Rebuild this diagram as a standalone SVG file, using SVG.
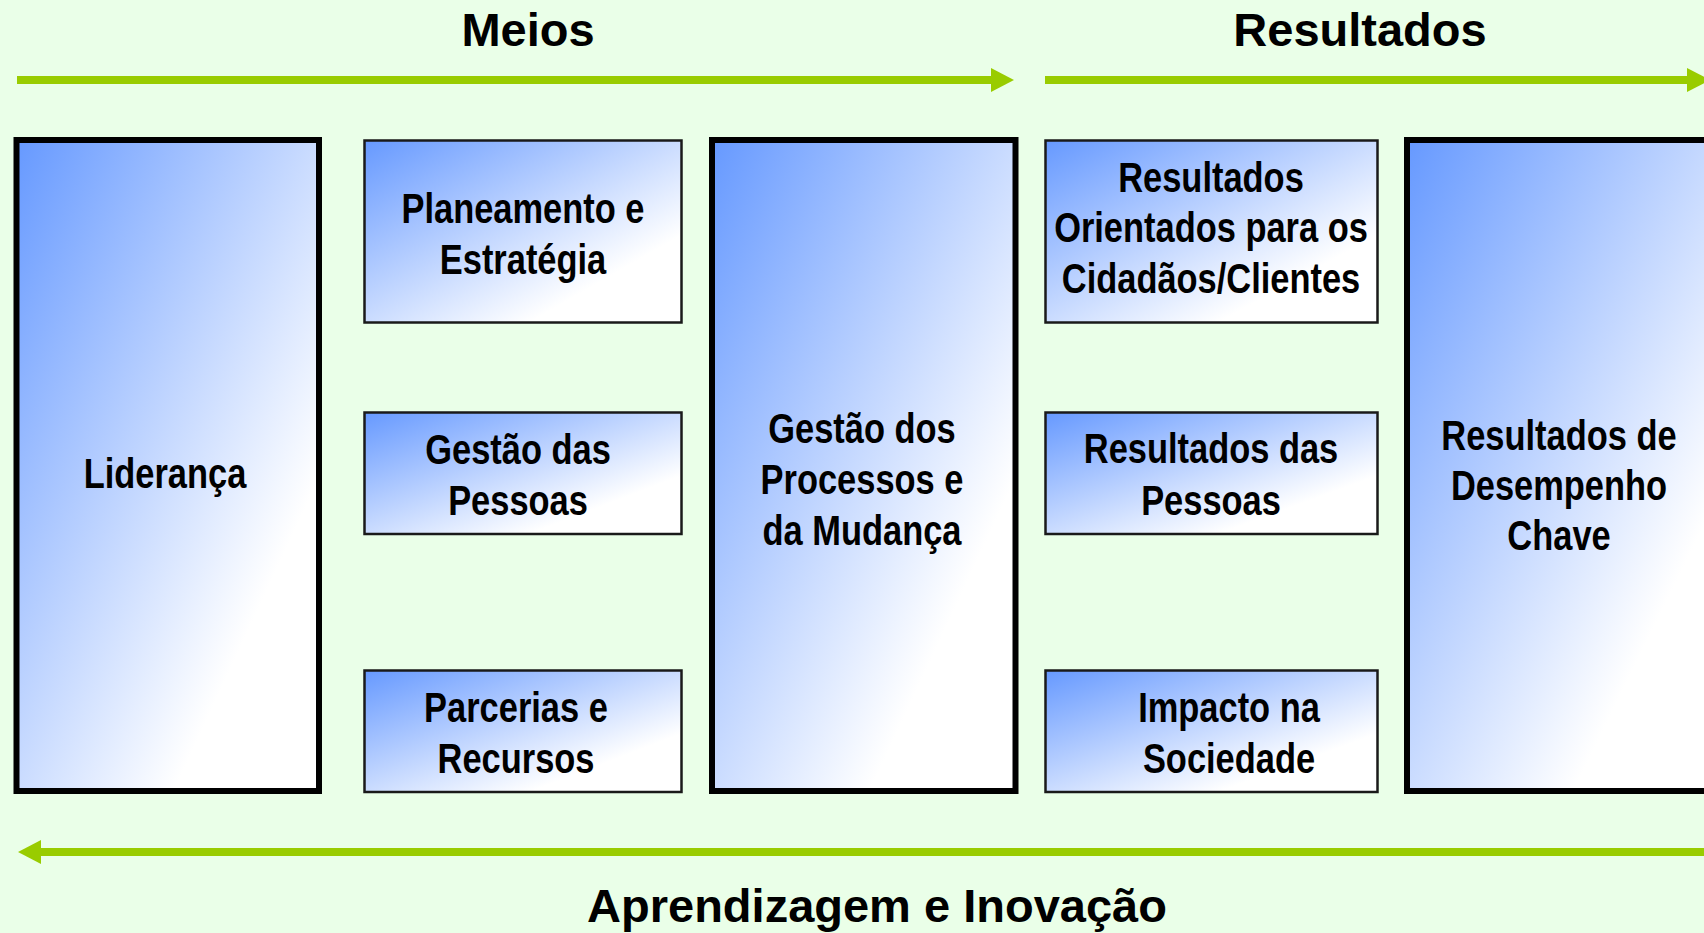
<svg xmlns="http://www.w3.org/2000/svg" width="1704" height="933" viewBox="0 0 1704 933">
<defs>
<linearGradient id="g" x1="0" y1="0" x2="1" y2="1">
<stop offset="0" stop-color="#6699FF"/>
<stop offset="0.76" stop-color="#FFFFFF"/>
<stop offset="1" stop-color="#FFFFFF"/>
</linearGradient>
<marker id="ah" markerUnits="userSpaceOnUse" markerWidth="24" markerHeight="26" refX="0" refY="12" orient="auto-start-reverse">
<path d="M0,0 L23,12 L0,24 z" fill="#99CC00"/>
</marker>
<style>
.big{fill:url(#g);stroke:#000;stroke-width:6}
.small{fill:url(#g);stroke:#1a1a1a;stroke-width:2.5}
.lbl{font-family:"Liberation Sans",Arial,sans-serif;font-weight:bold;font-size:42px;text-anchor:middle;fill:#000}
.ttl{font-family:"Liberation Sans",Arial,sans-serif;font-weight:bold;font-size:47px;text-anchor:middle;fill:#000}
.arr{stroke:#99CC00;stroke-width:8;fill:none}
</style>
</defs>
<rect x="0" y="0" width="1704" height="933" fill="#EAFFE8"/>

<g id="titles">
<text class="ttl" x="528" y="46">Meios</text>
<text class="ttl" x="1360" y="46">Resultados</text>
<text class="ttl" x="877" y="922">Aprendizagem e Inovação</text>
</g>

<g id="connectors">
<line class="arr" x1="17" y1="80" x2="991" y2="80" marker-end="url(#ah)"/>
<line class="arr" x1="1045" y1="80" x2="1687" y2="80" marker-end="url(#ah)"/>
<line class="arr" x1="41" y1="852" x2="1710" y2="852" marker-start="url(#ah)"/>
</g>

<g id="lideranca">
<rect class="big" x="16.5" y="140" width="302.5" height="651"/>
<text class="lbl" transform="translate(165,0) scale(0.82,1)"><tspan x="0" y="488">Liderança</tspan></text>
</g>

<g id="planeamento">
<rect class="small" x="364.5" y="140.5" width="317" height="182"/>
<text class="lbl" transform="translate(523,0) scale(0.82,1)"><tspan x="0" y="223">Planeamento e</tspan><tspan x="0" y="274">Estratégia</tspan></text>
</g>

<g id="gestao-pessoas">
<rect class="small" x="364.5" y="412.5" width="317" height="121.5"/>
<text class="lbl" transform="translate(518,0) scale(0.82,1)"><tspan x="0" y="464">Gestão das</tspan><tspan x="0" y="515">Pessoas</tspan></text>
</g>

<g id="parcerias">
<rect class="small" x="364.5" y="670.5" width="317" height="121.5"/>
<text class="lbl" transform="translate(516,0) scale(0.82,1)"><tspan x="0" y="722">Parcerias e</tspan><tspan x="0" y="773">Recursos</tspan></text>
</g>

<g id="processos">
<rect class="big" x="712" y="140" width="303.5" height="651"/>
<text class="lbl" transform="translate(862,0) scale(0.82,1)"><tspan x="0" y="443">Gestão dos</tspan><tspan x="0" y="494">Processos e</tspan><tspan x="0" y="545">da Mudança</tspan></text>
</g>

<g id="res-cidadaos">
<rect class="small" x="1045.5" y="140.5" width="332" height="182"/>
<text class="lbl" transform="translate(1211,0) scale(0.82,1)"><tspan x="0" y="192">Resultados</tspan><tspan x="0" y="242">Orientados para os</tspan><tspan x="0" y="293">Cidadãos/Clientes</tspan></text>
</g>

<g id="res-pessoas">
<rect class="small" x="1045.5" y="412.5" width="332" height="121.5"/>
<text class="lbl" transform="translate(1211,0) scale(0.82,1)"><tspan x="0" y="463">Resultados das</tspan><tspan x="0" y="515">Pessoas</tspan></text>
</g>

<g id="impacto">
<rect class="small" x="1045.5" y="670.5" width="332" height="121.5"/>
<text class="lbl" transform="translate(1229,0) scale(0.82,1)"><tspan x="0" y="722">Impacto na</tspan><tspan x="0" y="773">Sociedade</tspan></text>
</g>

<g id="res-desempenho">
<rect class="big" x="1407" y="140" width="320" height="651"/>
<text class="lbl" transform="translate(1559,0) scale(0.82,1)"><tspan x="0" y="450">Resultados de</tspan><tspan x="0" y="500">Desempenho</tspan><tspan x="0" y="550">Chave</tspan></text>
</g>
</svg>
